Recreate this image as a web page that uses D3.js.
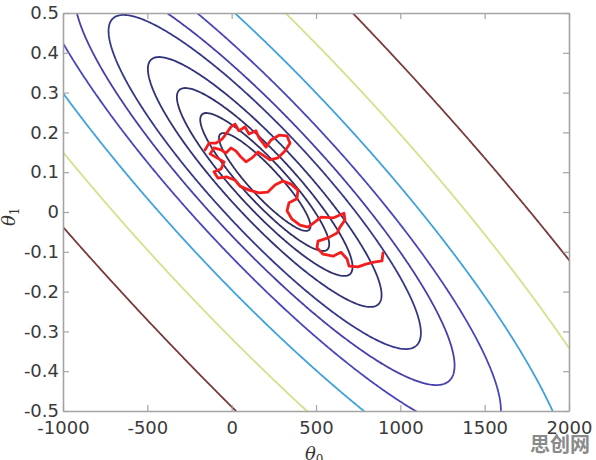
<!DOCTYPE html>
<html>
<head>
<meta charset="utf-8">
<script src="https://cdn.jsdelivr.net/npm/d3@7"></script>
<style>
  body { margin: 0; background: #fff; }
  svg { display: block; }
  .tick text { font-family: "DejaVu Sans", sans-serif; font-size: 18px; fill: #3a3a3a; }
  .tick line { stroke: #a4a4a4; stroke-width: 1.2; }
  .domain { stroke: #a4a4a4; stroke-width: 1.6; }
</style>
</head>
<body>
<div id="chart"></div>
<script>
// tick values
var xTicks = [-1000, -500, 0, 500, 1000, 1500, 2000];
var yTicks = [-0.5, -0.4, -0.3, -0.2, -0.1, 0, 0.1, 0.2, 0.3, 0.4, 0.5];

// cost surface J(theta0, theta1): minimum point, and shape (mean of x, spread of x)
var costCenter = [196, 0.0754];
var costShape = [1994, 944];
// contour levels (thousands), inner ellipse -> outer line
var contourLevels = [13.5, 26.8, 49.7, 87.9, 157, 232, 359, 608, 1100, 2032];
var contourColors = ["#2f3066", "#2f3068", "#30316f", "#31337a", "#363889",
                     "#4640ad", "#4a46bc", "#40a2dc", "#d2e28c", "#7a3a3a"];

// stochastic gradient descent path
var pathTheta0 = [-158, -134, -93, -57, -34, -4, 20, 43, 79, 103, 144, 162, 204, 233, 281, 328, 346, 316, 275, 227,
                  192, 156, 121, 85, 55, 26, -4, -34, -63, -105, -128, -87, -45, -63, -105, -81, -28, 20, 49, 103,
                  162, 215, 257, 304, 352, 393, 387, 340, 328, 358, 405, 453, 494, 530, 601, 666, 672, 642, 625, 571,
                  512, 506, 542, 601, 648, 684, 696, 749, 796, 844, 891, 897];
var pathTheta1 = [0.156, 0.173, 0.173, 0.183, 0.196, 0.214, 0.221, 0.204, 0.214, 0.196, 0.204, 0.186, 0.163, 0.181, 0.193, 0.191, 0.173, 0.153, 0.136, 0.131,
                  0.141, 0.151, 0.136, 0.126, 0.138, 0.153, 0.161, 0.148, 0.156, 0.161, 0.146, 0.136, 0.126, 0.108, 0.101, 0.085, 0.088, 0.080, 0.065, 0.055,
                  0.048, 0.050, 0.068, 0.078, 0.070, 0.055, 0.033, 0.023, 0.003, -0.018, -0.033, -0.038, -0.025, -0.013, -0.015, -0.003, -0.020, -0.038, -0.053, -0.065,
                  -0.073, -0.090, -0.106, -0.111, -0.101, -0.118, -0.136, -0.138, -0.131, -0.126, -0.123, -0.103];

var W = 596, H = 460;
var pLeft = 63, pRight = 569, pTop = 13, pBottom = 411;

var svg = d3.select("#chart").append("svg")
  .attr("width", W)
  .attr("height", H);

var x = d3.scaleLinear().domain([-1000, 2000]).range([pLeft, pRight]);
var y = d3.scaleLinear().domain([-0.5, 0.5]).range([pBottom, pTop]);

svg.append("clipPath").attr("id", "plotclip")
  .append("rect")
  .attr("x", pLeft).attr("y", pTop)
  .attr("width", pRight - pLeft).attr("height", pBottom - pTop);

function cost(t0, t1) {
  var u = t0 - costCenter[0], v = t1 - costCenter[1];
  var a = u + costShape[0] * v, b = costShape[1] * v;
  return (a * a + b * b) / 1000;
}

// sample the surface on a grid a bit larger than the plot
var gx0 = -1400, gx1 = 2400, gy0 = -0.7, gy1 = 0.7, nx = 400, ny = 300;
var stepX = (gx1 - gx0) / (nx - 1), stepY = (gy1 - gy0) / (ny - 1);
var grid = new Array(nx * ny);
for (var j = 0; j < ny; j++) {
  for (var i = 0; i < nx; i++) {
    grid[i + j * nx] = cost(gx0 + i * stepX, gy1 - j * stepY);
  }
}

var contours = d3.contours().size([nx, ny]).thresholds(contourLevels)(grid);

var proj = d3.geoTransform({
  point: function(px, py) {
    this.stream.point(x(gx0 + (px - 0.5) * stepX), y(gy1 - (py - 0.5) * stepY));
  }
});
var geo = d3.geoPath(proj);

var plot = svg.append("g").attr("clip-path", "url(#plotclip)");

plot.selectAll("path.contour")
  .data(contours)
  .enter().append("path")
  .attr("class", "contour")
  .attr("d", geo)
  .attr("fill", "none")
  .attr("stroke", function(d, i) { return contourColors[i]; })
  .attr("stroke-width", 1.8);

var sgd = pathTheta0.map(function(d, i) { return [d, pathTheta1[i]]; });
plot.append("path")
  .datum(sgd)
  .attr("d", d3.line().x(function(d) { return x(d[0]); }).y(function(d) { return y(d[1]); }))
  .attr("fill", "none")
  .attr("stroke", "#f41e1e")
  .attr("stroke-width", 2.8)
  .attr("stroke-linejoin", "round")
  .attr("stroke-linecap", "round");

// axes, ticks pointing in, box all round
svg.append("g")
  .attr("transform", "translate(0," + pBottom + ")")
  .call(d3.axisBottom(x).tickValues(xTicks).tickSize(-6).tickSizeOuter(0).tickPadding(10)
        .tickFormat(function(d) { return String(d); }));

svg.append("g")
  .attr("transform", "translate(" + pLeft + ",0)")
  .call(d3.axisLeft(y).tickValues(yTicks).tickSize(-6).tickSizeOuter(0).tickPadding(4)
        .tickFormat(function(d) { return d3.format(".1~f")(d).replace("\u2212", "-"); }));

svg.append("g")
  .attr("transform", "translate(0," + pTop + ")")
  .call(d3.axisTop(x).tickValues(xTicks).tickSize(-6).tickSizeOuter(0).tickFormat(""));

svg.append("g")
  .attr("transform", "translate(" + pRight + ",0)")
  .call(d3.axisRight(y).tickValues(yTicks).tickSize(-6).tickSizeOuter(0).tickFormat(""));

// axis titles
var xl = svg.append("text")
  .attr("x", 305).attr("y", 460)
  .attr("font-family", "DejaVu Serif, serif")
  .attr("font-style", "italic")
  .attr("font-size", 18)
  .attr("fill", "#333");
xl.append("tspan").text("θ");
xl.append("tspan").attr("dy", 4).attr("font-size", 12).attr("font-style", "normal").text("0");

var yl = svg.append("text")
  .attr("transform", "translate(15,226) rotate(-90)")
  .attr("font-family", "DejaVu Serif, serif")
  .attr("font-style", "italic")
  .attr("font-size", 18)
  .attr("fill", "#333");
yl.append("tspan").text("θ");
yl.append("tspan").attr("dy", 4).attr("font-size", 12).attr("font-style", "normal").text("1");

// watermark
svg.append("text")
  .attr("x", 530).attr("y", 452)
  .attr("font-family", "Noto Sans CJK SC, sans-serif")
  .attr("font-weight", "bold")
  .attr("font-size", 20)
  .attr("fill", "#8a8a8a")
  .text("思创网");
</script>
</body>
</html>
